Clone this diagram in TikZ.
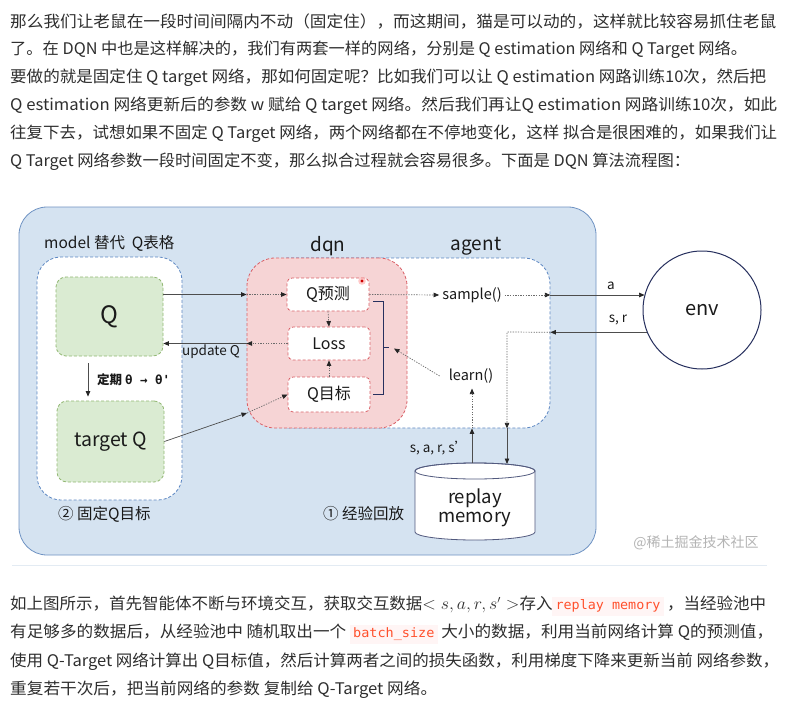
\documentclass[tikz,border=0pt]{standalone}
\usepackage{fontspec}
\usepackage{graphicx}
\setmainfont{Noto Sans CJK SC}
\newfontfamily\monofont{DejaVu Sans Mono}
\usetikzlibrary{arrows.meta}
\definecolor{txt}{HTML}{2E2E2E}
\definecolor{dark}{HTML}{1A1A1A}
\definecolor{outerfill}{HTML}{D5E3F1}
\definecolor{outerdraw}{HTML}{6F93C3}
\definecolor{bluedash}{HTML}{5B86C2}
\definecolor{greenfill}{HTML}{DAEBD2}
\definecolor{greendraw}{HTML}{93B874}
\definecolor{pinkfill}{HTML}{F6D4D5}
\definecolor{reddash}{HTML}{DA6168}
\definecolor{navy}{HTML}{27305E}
\definecolor{arrgray}{HTML}{4D4D4D}
\definecolor{dotgray}{HTML}{6B6B6B}
\definecolor{wmgray}{HTML}{B4B4B4}
\definecolor{codebg}{HTML}{FFF5F5}
\definecolor{codefg}{HTML}{FF502C}
\definecolor{sepcol}{HTML}{E3EBF3}
\newsavebox\fitbox
\newcommand\fitto[2]{\sbox\fitbox{#2}\edef\fitw{\the\wd\fitbox}\pgfmathsetmacro\fitratio{#1/\fitw}\scalebox{\fitratio}[1]{\usebox\fitbox}}
\newcommand\codespan[1]{{\setlength\fboxsep{3pt}\colorbox{codebg}{\textcolor{codefg}{\monofont\fontsize{13}{13}\selectfont #1}}}}
\newcommand\fs[1]{\fontsize{#1}{#1}\selectfont}
\begin{document}
\begin{tikzpicture}[x=1pt,y=-1pt,
  para/.style={anchor=west, inner sep=0, font=\fs{16}, text=txt},
  outerbox/.style={fill=outerfill, draw=outerdraw, line width=0.8pt, rounded corners=28pt, inner sep=0},
  dashb/.style={dash pattern=on 3pt off 2pt, line width=0.8pt},
  modelbox/.style={dashb, fill=white, draw=bluedash, rounded corners=24pt, inner sep=0},
  greenbox/.style={dashb, fill=greenfill, draw=greendraw, rounded corners=10pt, inner sep=0, text=dark},
  dqnbox/.style={dashb, fill=pinkfill, draw=reddash, rounded corners=28pt, inner sep=0},
  agentbox/.style={dashb, fill=white, draw=bluedash, rounded corners=26pt, inner sep=0},
  innerbox/.style={dashb, fill=white, draw=reddash, rounded corners=5pt, inner sep=0, minimum width=82pt, font=\fs{16}, text=dark},
  lbl/.style={inner sep=1pt, text=dark},
  tip/.style={-{Triangle[length=5.5pt,width=4.5pt,color=black!85]}},
  solidarr/.style={tip, draw=arrgray, line width=0.7pt},
  dotarr/.style={tip, draw=dotgray, line width=0.7pt, dash pattern=on 1.3pt off 1.3pt},
  bracestyle/.style={draw=navy, line width=0.9pt}
]
\useasboundingbox (0,0) rectangle (793,712);
\fill[white] (0,0) rectangle (793,712);

% ---------- top paragraph ----------
\node[para] (t1) at (10,22) {\fitto{766pt}{那么我们让老鼠在一段时间间隔内不动（固定住），而这期间，猫是可以动的，这样就比较容易抓住老鼠}};
\node[para] (t2) at (10,50) {\fitto{737pt}{了。在 DQN 中也是这样解决的，我们有两套一样的网络，分别是 Q estimation 网络和 Q Target 网络。}};
\node[para] (t3) at (10,78) {\fitto{756pt}{要做的就是固定住 Q target 网络，那如何固定呢？比如我们可以让 Q estimation 网路训练10次，然后把}};
\node[para] (t4) at (10,106) {\fitto{767pt}{Q estimation 网络更新后的参数 w 赋给 Q target 网络。然后我们再让Q estimation 网路训练10次，如此}};
\node[para] (t5) at (10,134) {\fitto{767pt}{往复下去，试想如果不固定 Q Target 网络，两个网络都在不停地变化，这样 拟合是很困难的，如果我们让}};
\node[para] (t6) at (10,162) {\fitto{680pt}{Q Target 网络参数一段时间固定不变，那么拟合过程就会容易很多。下面是 DQN 算法流程图：}};

% ---------- diagram containers ----------
\node[outerbox, minimum width=577pt, minimum height=348pt] (outer) at (307.5,381) {};
\node[modelbox, minimum width=145pt, minimum height=243pt] (model) at (109.5,378.5) {};
\node[agentbox, minimum width=288pt, minimum height=170pt] (agent) at (406,343) {};
\node[dqnbox, minimum width=160pt, minimum height=170pt] (dqn) at (327,343) {};

\node[greenbox, minimum width=107pt, minimum height=79pt, font=\fs{24}] (Qbox) at (109.5,316.5) {Q};
\node[greenbox, minimum width=107pt, minimum height=81pt, font=\fs{19.5}] (tQ) at (110.5,441.5) {target Q};

\node[innerbox, minimum height=33pt] (Qp) at (328,294.5) {Q预测};
\node[innerbox, minimum height=33pt] (Loss) at (329,343.5) {Loss};
\node[innerbox, minimum height=35pt] (Qt) at (329,394.5) {Q目标};

\fill[red!35, opacity=0.6] (362,281) circle (3.8pt);
\fill[red!80!black] (362,281) circle (1.6pt);

% labels
\node[lbl, anchor=west, font=\fs{15.5}] (mlabel) at (43,243) {model 替代\ \ Q表格};
\node[lbl, font=\fs{19}] (dqnlabel) at (328,246) {dqn};
\node[lbl, font=\fs{19}] (agentlabel) at (476,246) {agent};
\node[lbl, font=\fs{13.5}] (updlabel) at (211,352) {update Q};
\node[lbl, anchor=west, font=\fs{12.5}] (perlabel) at (96,380) {\textbf{定期} {\monofont\bfseries θ → θ'}};
\node[lbl, anchor=west, font=\fs{15.5}] (fixlabel) at (57,514) {② 固定Q目标};
\node[lbl, anchor=west, font=\fs{15.5}] (replabel) at (322,514) {① 经验回放};

\node[lbl, font=\fs{14.5}, inner sep=3pt] (smp) at (472,295) {sample()};
\node[lbl, font=\fs{14.5}, inner sep=3pt] (learn) at (471,376) {learn()};

\node[circle, draw=navy, line width=1pt, fill=white, minimum size=118pt, inner sep=0, font=\fs{20}, text=dark] (env) at (702,310) {env};
\node[lbl, font=\fs{13.5}] (alabel) at (611,286) {a};
\node[lbl, font=\fs{13.5}] (srlabel) at (618,320) {s, r};
\node[lbl, font=\fs{13.5}] (sarslabel) at (439,448) {s, a, r, s’};

% replay memory cylinder
\filldraw[fill=white, draw=navy!80, line width=0.8pt] (415,471) -- (415,532) arc[start angle=180, end angle=360, x radius=60pt, y radius=8pt] -- (535,471) arc[start angle=0, end angle=180, x radius=60pt, y radius=8pt] -- cycle;
\draw[navy!80, line width=0.8pt] (475,471) ellipse [x radius=60pt, y radius=8pt];
\node[lbl, font=\fs{18.5}, align=center, inner sep=0] (mem) at (475,508) {replay\\[1pt]memory};
\coordinate (memL) at (472,463);
\coordinate (memR) at (507,464);
\coordinate (sr) at (507,332);
\coordinate (dqnin) at (247,413);
\coordinate (qx) at (88,0);
\coordinate (btarget) at (394,348.5);

\node[font=\fs{14}, text=wmgray, inner sep=0] (wm) at (696,543) {@稀土掘金技术社区};

% brace
\draw[bracestyle] (373,301) -- (383,301) -- (383,394) -- (373,394);
\draw[bracestyle] (383,347) -- (389,347);

% ---------- connectors ----------
\draw[solidarr] (Qbox.east |- Qp) -- (dqn.west |- Qp);
\draw[dotarr] (dqn.west |- Qp) -- (Qp.west);
\draw[dotarr] (Loss.west) -- (dqn.west |- Loss);
\draw[solidarr] (dqn.west |- Loss) -- (Qbox.east |- Loss);
\draw[solidarr] (tQ.east) -- (dqnin);
\draw[dotarr] (dqnin) -- (Qt.west);
\draw[solidarr, shorten <=7pt, shorten >=4pt] (Qbox.south -| qx) -- (tQ.north -| qx);
\draw[dotarr] (Qp.south) -- (Loss.north);
\draw[dotarr] (Qt.north) -- (Loss.south);
\draw[dotarr] (Qp.east) -- (smp.west);
\draw[dotarr] (smp.east) -- (smp -| agent.east);
\draw[solidarr] (smp -| agent.east) -- (smp -| env.165);
\draw[solidarr] (env.202) -- (env.202 -| agent.east);
\draw[dotarr] (env.202 -| agent.east) -- (sr) -- (sr |- agent.south);
\draw[solidarr] (sr |- agent.south) -- (memR);
\draw[solidarr] (memL) -- (memL |- agent.south);
\draw[dotarr, shorten >=2pt] (memL |- agent.south) -- (memL |- learn.south);
\draw[dotarr] ([xshift=-6pt]learn.west) -- (btarget);

% separator
\draw[sepcol, line width=0.8pt] (12,565) -- (767,565);

% ---------- bottom paragraph ----------
\node[para] (b1) at (10,606) {\fitto{756pt}{如上图所示，首先智能体不断与环境交互，获取交互数据$< s,a,r,s' >$存入\codespan{replay memory} ，当经验池中}};
\node[para] (b2) at (10,634) {\fitto{763pt}{有足够多的数据后，从经验池中 随机取出一个 \codespan{batch\_size} 大小的数据，利用当前网络计算 Q的预测值，}};
\node[para] (b3) at (10,662) {\fitto{769pt}{使用 Q-Target 网络计算出 Q目标值，然后计算两者之间的损失函数，利用梯度下降来更新当前 网络参数，}};
\node[para] (b4) at (10,690) {\fitto{427pt}{重复若干次后，把当前网络的参数 复制给 Q-Target 网络。}};
\end{tikzpicture}
\end{document}
